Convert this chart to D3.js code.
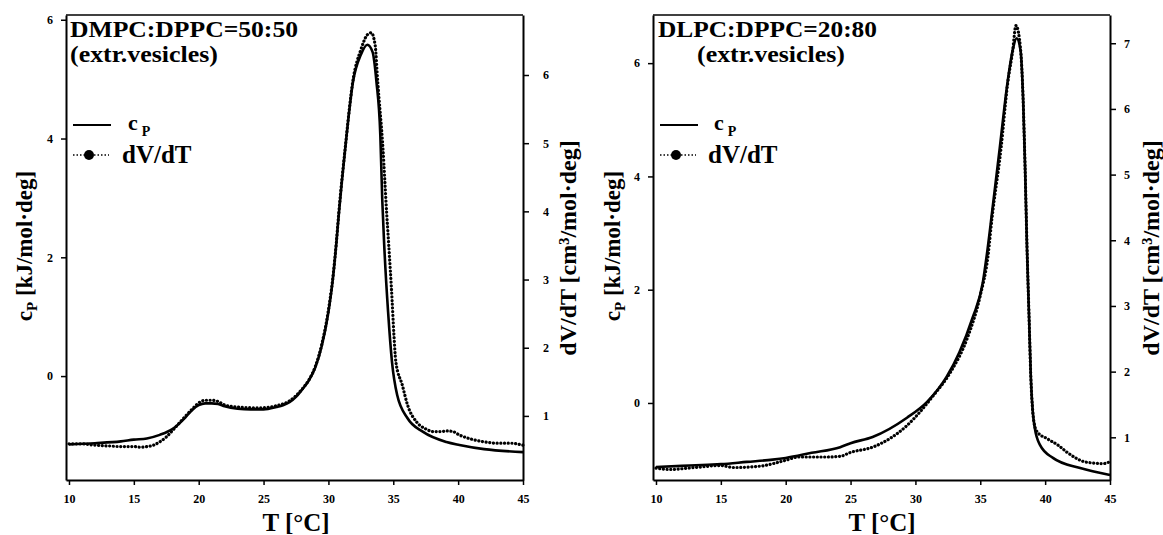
<!DOCTYPE html>
<html>
<head>
<meta charset="utf-8">
<script src="https://cdn.jsdelivr.net/npm/d3@7"></script>
<style>
  body { margin: 0; background: #fff; }
  svg text { font-family: "Liberation Serif", "Times New Roman", serif; font-weight: bold; fill: #000; }
</style>
</head>
<body>
<svg id="chart" width="1163" height="535"></svg>
<script>
const xTicks = [10, 15, 20, 25, 30, 35, 40, 45];

// DMPC:DPPC = 50:50, heat capacity (kJ/mol·deg)
const dmpcCpT = [10, 12, 14, 15, 16, 17, 18, 19, 19.5, 20, 20.5, 21, 21.5, 22, 23, 24, 25, 26, 26.5, 27, 27.5, 28, 28.5, 29, 29.5, 30, 30.35, 30.6, 30.8, 31.3, 31.9, 32.5, 33.0, 33.4, 33.7, 34.0, 34.15, 34.3, 34.6, 34.9, 35.3, 36.1, 37.3, 39.1, 40.1, 42, 45];
const dmpcCp = [-1.15, -1.13, -1.10, -1.07, -1.05, -0.99, -0.89, -0.69, -0.57, -0.49, -0.46, -0.46, -0.47, -0.51, -0.55, -0.56, -0.56, -0.52, -0.49, -0.44, -0.35, -0.22, -0.07, 0.15, 0.52, 1.08, 1.65, 2.21, 2.72, 3.84, 4.96, 5.41, 5.58, 5.46, 4.96, 4.06, 2.97, 2.21, 1.08, 0.24, -0.32, -0.71, -0.94, -1.11, -1.16, -1.23, -1.28];
// DMPC:DPPC = 50:50, volume expansion (cm³/mol·deg)
const dmpcDvT = [10, 11, 12, 13, 14, 15, 15.5, 16, 16.5, 17, 17.5, 18, 19, 19.5, 20, 20.5, 21, 21.5, 22, 23, 24, 25, 26, 27, 28, 28.5, 29, 29.5, 30, 30.35, 30.6, 30.8, 31.3, 31.9, 32.5, 33.0, 33.3, 33.6, 33.8, 34.2, 34.5, 34.65, 34.9, 35.05, 35.2, 35.7, 36.1, 36.8, 37.5, 38.1, 38.7, 39.1, 39.6, 40.1, 41, 42, 43, 44, 45];
const dmpcDv = [0.59, 0.59, 0.57, 0.56, 0.55, 0.55, 0.54, 0.55, 0.57, 0.62, 0.69, 0.79, 1.00, 1.10, 1.19, 1.23, 1.23, 1.21, 1.16, 1.13, 1.12, 1.12, 1.15, 1.22, 1.40, 1.53, 1.73, 2.06, 2.55, 3.04, 3.52, 3.98, 4.94, 5.93, 6.37, 6.59, 6.62, 6.44, 5.90, 4.93, 3.95, 3.51, 2.73, 2.19, 1.79, 1.45, 1.16, 0.91, 0.81, 0.77, 0.77, 0.78, 0.77, 0.72, 0.66, 0.62, 0.60, 0.60, 0.57];

// DLPC:DPPC = 20:80, heat capacity
const dlpcCpT = [10, 12, 14, 15, 17, 19, 20, 22, 24.2, 25, 26.7, 29.35, 30.9, 32.4, 33.4, 34.4, 35.2, 35.5, 35.9, 36.5, 37.1, 37.5, 37.8, 38.1, 38.3, 38.45, 38.6, 38.75, 38.9, 39.05, 39.2, 39.6, 40.6, 42.7, 45];
const dlpcCp = [-1.13, -1.11, -1.09, -1.08, -1.04, -1.00, -0.97, -0.88, -0.78, -0.71, -0.60, -0.26, 0.02, 0.46, 0.90, 1.50, 2.13, 2.61, 3.35, 4.50, 5.66, 6.23, 6.44, 6.23, 5.38, 4.20, 2.73, 1.60, 0.44, -0.16, -0.44, -0.74, -0.97, -1.15, -1.27];
// DLPC:DPPC = 20:80, volume expansion
const dlpcDvT = [10, 11, 13, 15, 16, 18, 20, 21, 23, 24.2, 25, 26.7, 29.35, 31.4, 32.7, 34, 35, 35.6, 35.9, 36.6, 37.1, 37.5, 37.75, 38.1, 38.3, 38.45, 38.6, 38.75, 38.9, 39.05, 39.2, 39.4, 40.15, 41, 41.7, 43.2, 44.5, 45];
const dlpcDv = [0.53, 0.51, 0.54, 0.57, 0.54, 0.56, 0.65, 0.70, 0.70, 0.71, 0.77, 0.85, 1.18, 1.64, 1.99, 2.51, 3.16, 3.77, 4.33, 5.40, 6.37, 6.89, 7.27, 6.92, 6.16, 5.14, 3.92, 2.90, 1.90, 1.38, 1.17, 1.08, 0.98, 0.88, 0.77, 0.62, 0.60, 0.63];

const panels = [
  {
    title: 'DMPC:DPPC=50:50', titleX: 70, titleW: 228, subX: 70,
    left: 66, right: 523, cpDomain: [-1.75, 6.08], dvDomain: [0.06, 6.88],
    cpTicks: [0, 2, 4, 6], dvTicks: [1, 2, 3, 4, 5, 6], dvPad: 14,
    cpT: dmpcCpT, cp: dmpcCp, dvT: dmpcDvT, dv: dmpcDv,
    cpLabelX: 32, dvLabelX: 576, tLabelX: 296, legendX: 73, legendTextX: 122
  },
  {
    title: 'DLPC:DPPC=20:80', titleX: 658, titleW: 219, subX: 697,
    left: 653, right: 1110, cpDomain: [-1.36, 6.85], dvDomain: [0.35, 7.43],
    cpTicks: [0, 2, 4, 6], dvTicks: [1, 2, 3, 4, 5, 6, 7], dvPad: 8,
    cpT: dlpcCpT, cp: dlpcCp, dvT: dlpcDvT, dv: dlpcDv,
    cpLabelX: 620, dvLabelX: 1159, tLabelX: 882, legendX: 660, legendTextX: 708
  }
];

const svg = d3.select('#chart');
const intFmt = d3.format('d');

function styleAxis(g) {
  g.attr('font-family', null).attr('font-size', 12);
  g.select('.domain').attr('stroke-width', 2);
  g.selectAll('.tick line').attr('stroke-width', 1.5);
}

function drawPanel(p) {
  const top = 15, bottom = 480;
  const x = d3.scaleLinear().domain([9.77, 45]).range([p.left, p.right]);
  const yCp = d3.scaleLinear().domain(p.cpDomain).range([bottom, top]);
  const yDv = d3.scaleLinear().domain(p.dvDomain).range([bottom, top]);
  const g = svg.append('g');

  g.append('line')
    .attr('x1', p.left).attr('x2', p.right)
    .attr('y1', top).attr('y2', top)
    .attr('stroke', '#000').attr('stroke-width', 1.5);

  g.append('g')
    .attr('transform', `translate(0,${bottom})`)
    .call(d3.axisBottom(x).tickValues(xTicks).tickFormat(intFmt).tickSize(5).tickPadding(9).tickSizeOuter(0))
    .call(styleAxis);

  g.append('g')
    .attr('transform', `translate(${p.left},0)`)
    .call(d3.axisLeft(yCp).tickValues(p.cpTicks).tickFormat(intFmt).tickSize(5).tickPadding(8).tickSizeOuter(0))
    .call(styleAxis);

  g.append('g')
    .attr('transform', `translate(${p.right},0)`)
    .call(d3.axisRight(yDv).tickValues(p.dvTicks).tickFormat(intFmt).tickSize(6).tickPadding(p.dvPad).tickSizeOuter(0))
    .call(styleAxis);

  const cpLine = d3.line().x(d => x(d[0])).y(d => yCp(d[1])).curve(d3.curveMonotoneX);
  const dvLine = d3.line().x(d => x(d[0])).y(d => yDv(d[1])).curve(d3.curveMonotoneX);

  g.append('path')
    .datum(d3.zip(p.dvT, p.dv))
    .attr('d', dvLine)
    .attr('fill', 'none').attr('stroke', '#000')
    .attr('stroke-width', 3.2).attr('stroke-linecap', 'round')
    .attr('stroke-dasharray', '0.1 3.6');

  g.append('path')
    .datum(d3.zip(p.cpT, p.cp))
    .attr('d', cpLine)
    .attr('fill', 'none').attr('stroke', '#000')
    .attr('stroke-width', 2.6);

  // titles
  g.append('text').attr('x', p.titleX).attr('y', 37)
    .attr('font-size', 24).attr('textLength', p.titleW).attr('lengthAdjust', 'spacingAndGlyphs')
    .text(p.title);
  g.append('text').attr('x', p.subX).attr('y', 62)
    .attr('font-size', 23).attr('textLength', 148).attr('lengthAdjust', 'spacingAndGlyphs')
    .text('(extr.vesicles)');

  // legend
  const lx = p.legendX;
  g.append('line').attr('x1', lx).attr('x2', lx + 38).attr('y1', 125).attr('y2', 125)
    .attr('stroke', '#000').attr('stroke-width', 2);
  const cpLeg = g.append('text').attr('x', p.legendTextX + 6).attr('y', 130).attr('font-size', 22);
  cpLeg.append('tspan').text('c');
  cpLeg.append('tspan').attr('dx', 4).attr('dy', 6).attr('font-size', 14).text('P');

  g.append('line').attr('x1', lx).attr('x2', lx + 36).attr('y1', 155).attr('y2', 155)
    .attr('stroke', '#000').attr('stroke-width', 1.5).attr('stroke-dasharray', '1.5 2');
  g.append('circle').attr('cx', lx + 16).attr('cy', 155).attr('r', 5).attr('fill', '#000');
  g.append('text').attr('x', p.legendTextX).attr('y', 163).attr('font-size', 25).text('dV/dT');

  // axis titles
  const cpLab = g.append('text')
    .attr('transform', `translate(${p.cpLabelX},246) rotate(-90)`)
    .attr('text-anchor', 'middle').attr('font-size', 23);
  cpLab.append('tspan').text('c');
  cpLab.append('tspan').attr('dy', 5).attr('font-size', 15).text('P');
  cpLab.append('tspan').attr('dy', -5).text(' [kJ/mol·deg]');

  g.append('text')
    .attr('transform', `translate(${p.dvLabelX},248) rotate(-90)`)
    .attr('text-anchor', 'middle').attr('font-size', 24)
    .text('dV/dT [cm³/mol·deg]');

  g.append('text').attr('x', p.tLabelX).attr('y', 531)
    .attr('text-anchor', 'middle').attr('font-size', 25)
    .text('T [°C]');
}

panels.forEach(drawPanel);
</script>
</body>
</html>
